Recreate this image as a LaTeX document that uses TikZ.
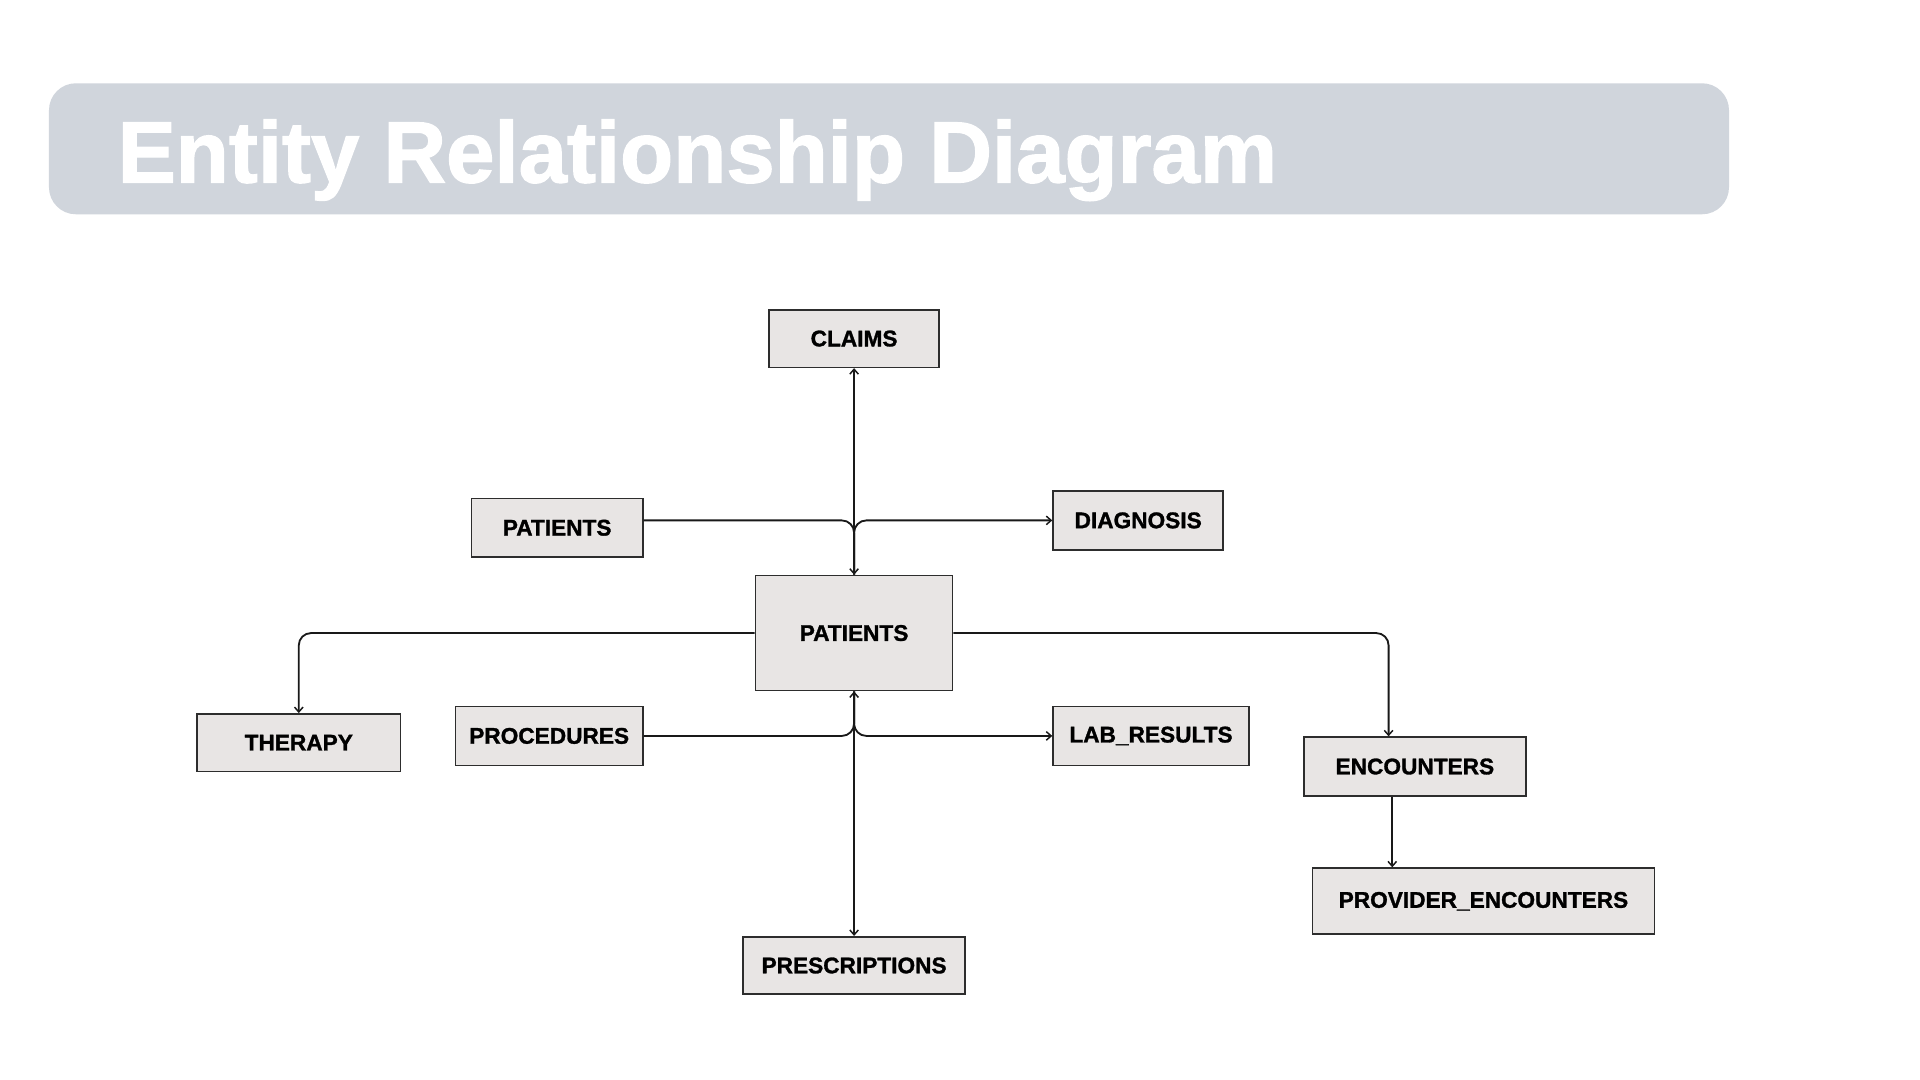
\documentclass[tikz,border=0pt]{standalone}
\usepackage{fontspec}
\setmainfont{Liberation Sans}
\newfontfamily\heavyfont{Liberation Sans Bold}[FakeBold=1.3]
\newfontfamily\titlefont{Liberation Sans Bold}[FakeBold=1.5]
\usetikzlibrary{arrows.meta}
\definecolor{hdr}{RGB}{208,213,220}
\definecolor{boxfill}{RGB}{232,229,228}
\definecolor{boxline}{RGB}{45,45,45}
\tikzset{
  ent/.style={draw=boxline, line width=1.3pt, fill=boxfill, inner sep=0pt,
    font=\heavyfont\fontsize{18.5}{20}\selectfont, text=black},
  conn/.style={line width=1.5pt, draw=black!90},
  tip/.style={-{Straight Barb[length=4pt,width=7pt,line width=1.2pt]}},
  tips/.style={{Straight Barb[length=4pt,width=7pt,line width=1.2pt]}-{Straight Barb[length=4pt,width=7pt,line width=1.2pt]}},
  rc/.style={rounded corners=10pt}
}
\begin{document}
\begin{tikzpicture}[x=1pt,y=-1pt]
\useasboundingbox (0,0) rectangle (1568,882);
\fill[white] (0,0) rectangle (1568,882);
% header
\fill[hdr, rounded corners=22pt] (40,68) rectangle (1412,175);
\node[anchor=base west, inner sep=0pt, text=white, font=\titlefont\fontsize{71}{80}\selectfont] (title) at (96,149) {Entity Relationship Diagram};
% entities
\node[ent, minimum width=139pt, minimum height=47pt] (claims) at (697.5,276.5) {CLAIMS};
\node[ent, minimum width=140pt, minimum height=48pt] (p1) at (455,431) {PATIENTS};
\node[ent, minimum width=139pt, minimum height=48pt] (diag) at (929.5,425) {DIAGNOSIS};
\node[ent, minimum width=161pt, minimum height=94pt] (pc) at (697.5,517) {PATIENTS};
\node[ent, minimum width=166pt, minimum height=47pt] (ther) at (244,606.5) {THERAPY};
\node[ent, minimum width=153pt, minimum height=48pt] (proc) at (448.5,601) {PROCEDURES};
\node[ent, minimum width=160pt, minimum height=48pt] (lab) at (940,601) {LAB\_RESULTS};
\node[ent, minimum width=181pt, minimum height=48pt] (enc) at (1155.5,626) {ENCOUNTERS};
\node[ent, minimum width=279pt, minimum height=54pt] (prov) at (1211.5,736) {PROVIDER\_ENCOUNTERS};
\node[ent, minimum width=181pt, minimum height=47pt] (presc) at (697.5,788.5) {PRESCRIPTIONS};
% helper coordinates
\coordinate (encin) at ([xshift=-21.5pt]enc.north);
\coordinate (encout) at ([xshift=-18.5pt]enc.south);
% connectors
\draw[conn, tips] (claims.south) -- (pc.north);
\draw[conn, rc] ([yshift=6pt]p1.east) -| (pc.north);
\draw[conn, rc, tip] (pc.north) |- (diag.west);
\draw[conn, tips] (pc.south) -- (presc.north);
\draw[conn, rc] (proc.east) -| (pc.south);
\draw[conn, rc, tip] (pc.south) |- (lab.west);
\draw[conn, rc, tip] (pc.west) -| (ther.north);
\draw[conn, rc, tip] (pc.east) -| (encin);
\draw[conn, tip] (encout) -- (encout |- prov.north);
\end{tikzpicture}
\end{document}
